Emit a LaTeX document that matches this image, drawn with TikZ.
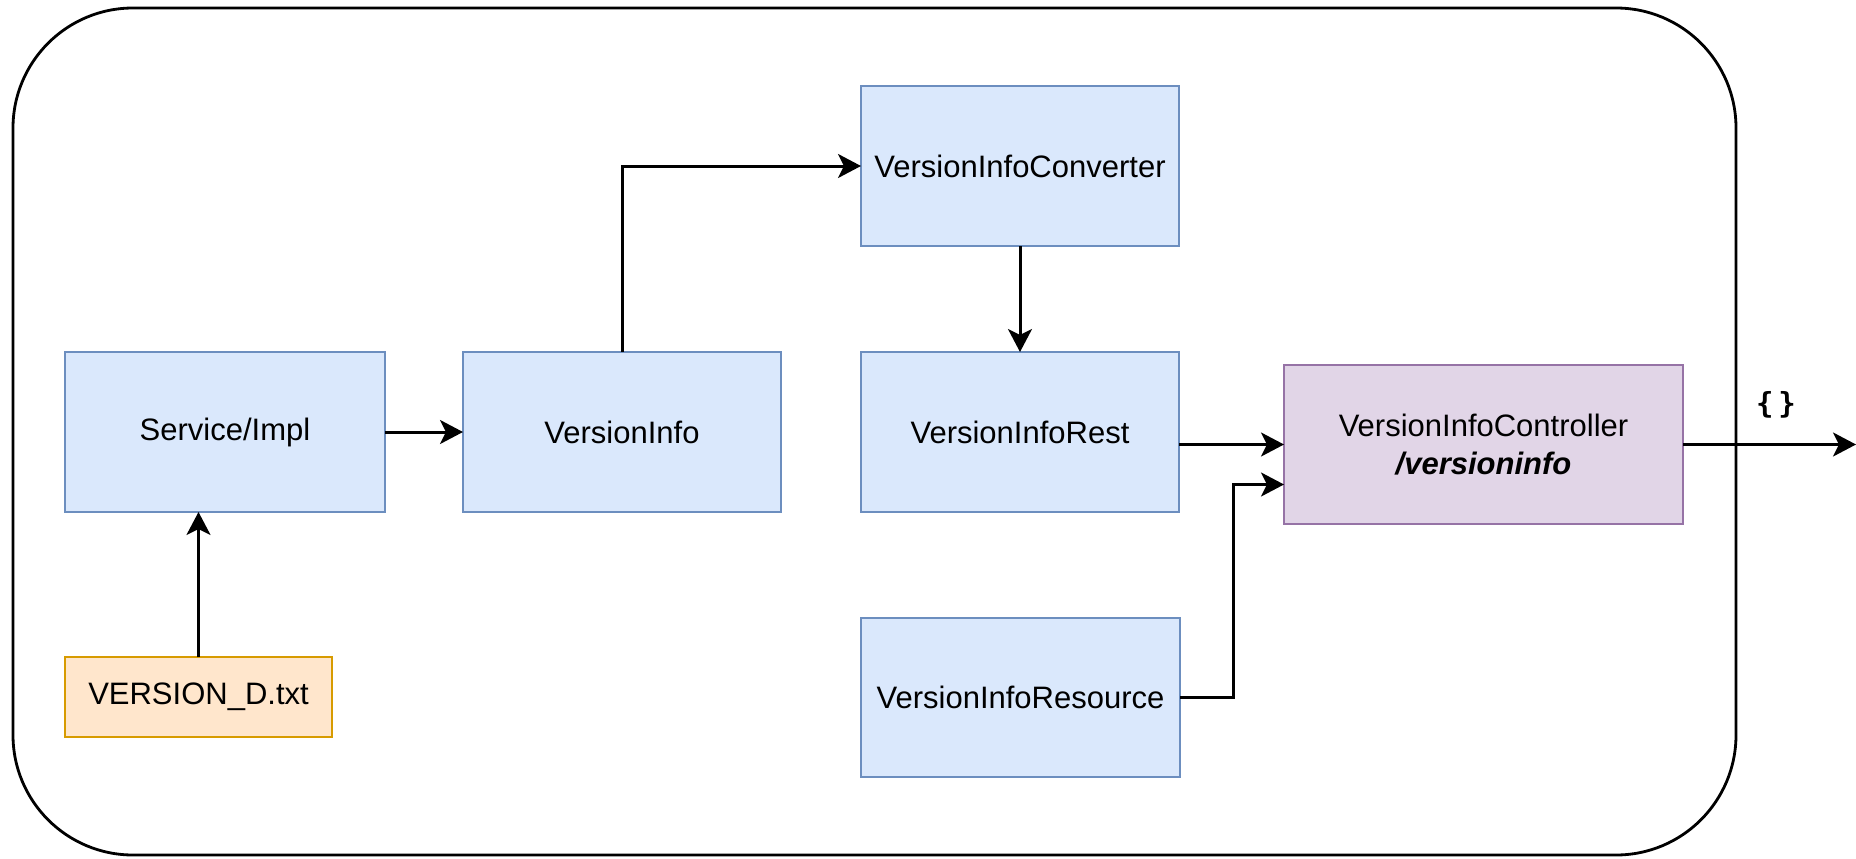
\documentclass[tikz,border=0pt]{standalone}
\usepackage{fontspec}
\setmainfont{Liberation Sans}
\newfontfamily\bracefont{DejaVu Sans Mono}
\usetikzlibrary{arrows.meta,calc}
\definecolor{bluefill}{HTML}{DAE8FC}
\definecolor{bluedraw}{HTML}{6C8EBF}
\definecolor{orangefill}{HTML}{FFE6CC}
\definecolor{orangedraw}{HTML}{D79B00}
\definecolor{purplefill}{HTML}{E1D5E7}
\definecolor{purpledraw}{HTML}{9673A6}
\tikzset{
  box/.style={draw, line width=2.2pt, inner sep=0pt, outer sep=0pt, align=center,
    font=\fontsize{31}{38}\selectfont},
  bluebox/.style={box, fill=bluefill, draw=bluedraw, minimum width=318pt, minimum height=160pt},
  orangebox/.style={box, fill=orangefill, draw=orangedraw, minimum width=267pt, minimum height=80pt},
  purplebox/.style={box, fill=purplefill, draw=purpledraw, minimum width=399pt, minimum height=159pt},
  arr/.style={line width=3pt, -{Stealth[length=23pt,width=24pt,inset=6pt]}},
  container/.style={draw, line width=2.8pt, rounded corners=120pt},
  lbl/.style={font=\bracefont\bfseries\fontsize{29}{33}\selectfont, inner sep=0pt}
}
\begin{document}
\begin{tikzpicture}[x=1pt,y=-1pt]
\useasboundingbox (0,0) rectangle (1856,859);
\draw[container] (13,8) rectangle (1736,855);

\node[bluebox, minimum width=320pt] (svc) at (225,432) {Service/Impl};
\node[orangebox] (ver) at (198.5,697) {VERSION\_D.txt};
\node[bluebox] (vi) at (622,432) {VersionInfo};
\node[bluebox] (conv) at (1020,166) {VersionInfoConverter};
\node[bluebox] (rest) at (1020,432) {VersionInfoRest};
\node[bluebox, minimum width=319pt, minimum height=159pt] (res) at (1020.5,697.5) {VersionInfoResource};
\node[purplebox] (ctrl) at (1483.5,444.5) {VersionInfoController\\\textbf{\textit{/versioninfo}}};
\coordinate (out) at (1856,444.5);
\node[lbl] (brace) at (1776,405) {\{\,\}};

\draw[arr] (ver.north) -- (ver.north |- svc.south);
\draw[arr] (svc.east) -- (vi.west);
\draw[arr] (vi.north) |- (conv.west);
\draw[arr] (conv.south) -- (rest.north);
\draw[arr] (rest.east |- ctrl.west) -- (ctrl.west);
\draw[arr] (res.east) -- ++(53,0) |- ($(ctrl.west)+(0,40)$);
\draw[arr] (ctrl.east) -- (out);
\end{tikzpicture}
\end{document}
